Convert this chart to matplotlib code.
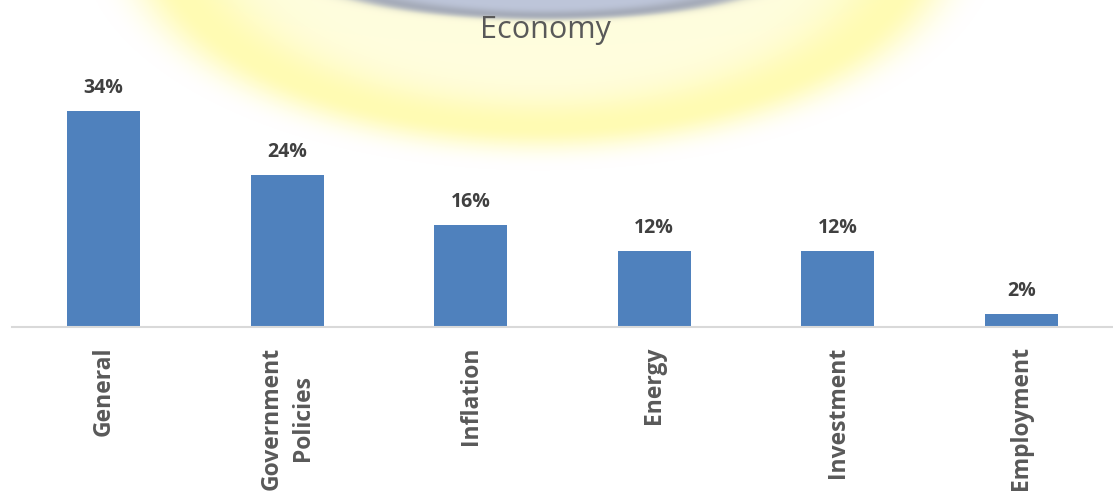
import numpy as np
import matplotlib
matplotlib.use("Agg")
import matplotlib.pyplot as plt

# survey shares for the economy topic
categories = ["General", "Government\nPolicies", "Inflation", "Energy", "Investment", "Employment"]
shares = [34, 24, 16, 12, 12, 2]
title = "Economy"

W, H = 1113, 494
fig = plt.figure(figsize=(W / 100, H / 100), dpi=100)


def smooth(e0, e1, v):
  t = np.clip((v - e0) / (e1 - e0), 0, 1)
  return t * t * (3 - 2 * t)


# backdrop: soft yellow halo with a grey-blue cap at the top edge
yy, xx = np.mgrid[0:H, 0:W].astype(float)
r = np.sqrt(((xx - 540) / 430) ** 2 + ((yy + 60) / 215) ** 2)
ring = np.exp(-((r - 0.87) / 0.13) ** 2)
halo = (0.35 + 0.45 * ring) * (1 - smooth(0.88, 1.07, r))
yellow = np.array([255, 250, 160]) / 255.0
img = 1 - halo[..., None] * (1 - yellow)

rc = np.sqrt(((xx - 545) / 240) ** 2 + ((yy + 30) / 50) ** 2)
inside = 1 - smooth(0.9, 1.05, rc)
rim = np.exp(-((rc - 0.92) / 0.1) ** 2)
cap_col = np.array([190, 198, 218]) / 255.0
rim_col = np.array([150, 155, 165]) / 255.0
img = img * (1 - inside[..., None]) + cap_col * inside[..., None]
img = img * (1 - 0.6 * rim[..., None]) + rim_col * 0.6 * rim[..., None]

bg = fig.add_axes([0, 0, 1, 1], zorder=0)
bg.imshow(img, aspect="auto", interpolation="bilinear")
bg.axis("off")

# bar chart
ax = fig.add_axes([12 / W, 1 - 327 / H, 1 - 12 / W, 254 / H], zorder=1)
ax.set_facecolor("none")
x = np.arange(len(categories))
ax.bar(x, shares, width=0.4, color="#4F81BD")
ax.set_xlim(-0.5, len(categories) - 0.5)
ax.set_ylim(0, 40)

for s in ["top", "right", "left"]:
  ax.spines[s].set_visible(False)
ax.spines["bottom"].set_color("#D9D9D9")
ax.spines["bottom"].set_linewidth(1.5)
ax.set_yticks([])
ax.set_xticks(x)
ax.set_xticklabels(categories, rotation=90, fontsize=16.5, fontweight="bold",
                   color="#595959", family="Open Sans", linespacing=1.4)
ax.tick_params(axis="x", length=0, pad=14)

for i, v in enumerate(shares):
  ax.annotate("{}%".format(v), (i, v), xytext=(0, 13), textcoords="offset points",
              ha="center", va="baseline", fontsize=14, fontweight="bold",
              color="#404040", family="Open Sans")

fig.text(545 / W, 1 - 38 / H, title, ha="center", va="baseline", fontsize=22,
         color="#595959", family="Open Sans")

fig.savefig("out.png", dpi=100)
